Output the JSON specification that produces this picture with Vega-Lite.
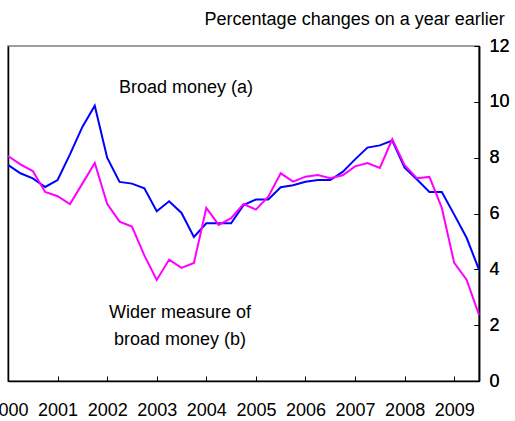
{
  "$schema": "https://vega.github.io/schema/vega-lite/v6.json",
  "autosize": "none",
  "width": 471,
  "height": 335,
  "padding": {"left": 8, "top": 46, "right": 36, "bottom": 40},
  "background": "white",
  "config": {
    "font": "Liberation Sans",
    "view": {"stroke": "#808080", "strokeWidth": 1.5},
    "axis": {"grid": false, "domainColor": "black", "tickColor": "black", "labelColor": "black", "labelFont": "Liberation Sans", "labelFontSize": 18, "domainWidth": 1.5, "tickWidth": 1}
  },
  "datasets": {
    "money": [
      {"t": 2000.00, "s": "Broad money (a)", "v": 7.74},
      {"t": 2000.25, "s": "Broad money (a)", "v": 7.44},
      {"t": 2000.50, "s": "Broad money (a)", "v": 7.26},
      {"t": 2000.75, "s": "Broad money (a)", "v": 6.95},
      {"t": 2001.00, "s": "Broad money (a)", "v": 7.20},
      {"t": 2001.25, "s": "Broad money (a)", "v": 8.12},
      {"t": 2001.50, "s": "Broad money (a)", "v": 9.10},
      {"t": 2001.75, "s": "Broad money (a)", "v": 9.86},
      {"t": 2002.00, "s": "Broad money (a)", "v": 8.00},
      {"t": 2002.25, "s": "Broad money (a)", "v": 7.13},
      {"t": 2002.50, "s": "Broad money (a)", "v": 7.07},
      {"t": 2002.75, "s": "Broad money (a)", "v": 6.90},
      {"t": 2003.00, "s": "Broad money (a)", "v": 6.08},
      {"t": 2003.25, "s": "Broad money (a)", "v": 6.44},
      {"t": 2003.50, "s": "Broad money (a)", "v": 6.02},
      {"t": 2003.75, "s": "Broad money (a)", "v": 5.16},
      {"t": 2004.00, "s": "Broad money (a)", "v": 5.65},
      {"t": 2004.25, "s": "Broad money (a)", "v": 5.65},
      {"t": 2004.50, "s": "Broad money (a)", "v": 5.65},
      {"t": 2004.75, "s": "Broad money (a)", "v": 6.30},
      {"t": 2005.00, "s": "Broad money (a)", "v": 6.50},
      {"t": 2005.25, "s": "Broad money (a)", "v": 6.50},
      {"t": 2005.50, "s": "Broad money (a)", "v": 6.94},
      {"t": 2005.75, "s": "Broad money (a)", "v": 7.01},
      {"t": 2006.00, "s": "Broad money (a)", "v": 7.14},
      {"t": 2006.25, "s": "Broad money (a)", "v": 7.20},
      {"t": 2006.50, "s": "Broad money (a)", "v": 7.20},
      {"t": 2006.75, "s": "Broad money (a)", "v": 7.49},
      {"t": 2007.00, "s": "Broad money (a)", "v": 7.94},
      {"t": 2007.25, "s": "Broad money (a)", "v": 8.36},
      {"t": 2007.50, "s": "Broad money (a)", "v": 8.44},
      {"t": 2007.75, "s": "Broad money (a)", "v": 8.61},
      {"t": 2008.00, "s": "Broad money (a)", "v": 7.64},
      {"t": 2008.25, "s": "Broad money (a)", "v": 7.22},
      {"t": 2008.50, "s": "Broad money (a)", "v": 6.77},
      {"t": 2008.75, "s": "Broad money (a)", "v": 6.77},
      {"t": 2009.00, "s": "Broad money (a)", "v": 5.96},
      {"t": 2009.25, "s": "Broad money (a)", "v": 5.13},
      {"t": 2009.50, "s": "Broad money (a)", "v": 3.99},
      {"t": 2000.00, "s": "Wider measure of broad money (b)", "v": 8.06},
      {"t": 2000.25, "s": "Wider measure of broad money (b)", "v": 7.76},
      {"t": 2000.50, "s": "Wider measure of broad money (b)", "v": 7.52},
      {"t": 2000.75, "s": "Wider measure of broad money (b)", "v": 6.77},
      {"t": 2001.00, "s": "Wider measure of broad money (b)", "v": 6.62},
      {"t": 2001.25, "s": "Wider measure of broad money (b)", "v": 6.34},
      {"t": 2001.50, "s": "Wider measure of broad money (b)", "v": 7.07},
      {"t": 2001.75, "s": "Wider measure of broad money (b)", "v": 7.81},
      {"t": 2002.00, "s": "Wider measure of broad money (b)", "v": 6.35},
      {"t": 2002.25, "s": "Wider measure of broad money (b)", "v": 5.71},
      {"t": 2002.50, "s": "Wider measure of broad money (b)", "v": 5.53},
      {"t": 2002.75, "s": "Wider measure of broad money (b)", "v": 4.50},
      {"t": 2003.00, "s": "Wider measure of broad money (b)", "v": 3.62},
      {"t": 2003.25, "s": "Wider measure of broad money (b)", "v": 4.35},
      {"t": 2003.50, "s": "Wider measure of broad money (b)", "v": 4.05},
      {"t": 2003.75, "s": "Wider measure of broad money (b)", "v": 4.23},
      {"t": 2004.00, "s": "Wider measure of broad money (b)", "v": 6.20},
      {"t": 2004.25, "s": "Wider measure of broad money (b)", "v": 5.59},
      {"t": 2004.50, "s": "Wider measure of broad money (b)", "v": 5.83},
      {"t": 2004.75, "s": "Wider measure of broad money (b)", "v": 6.34},
      {"t": 2005.00, "s": "Wider measure of broad money (b)", "v": 6.14},
      {"t": 2005.25, "s": "Wider measure of broad money (b)", "v": 6.60},
      {"t": 2005.50, "s": "Wider measure of broad money (b)", "v": 7.44},
      {"t": 2005.75, "s": "Wider measure of broad money (b)", "v": 7.14},
      {"t": 2006.00, "s": "Wider measure of broad money (b)", "v": 7.32},
      {"t": 2006.25, "s": "Wider measure of broad money (b)", "v": 7.38},
      {"t": 2006.50, "s": "Wider measure of broad money (b)", "v": 7.26},
      {"t": 2006.75, "s": "Wider measure of broad money (b)", "v": 7.37},
      {"t": 2007.00, "s": "Wider measure of broad money (b)", "v": 7.69},
      {"t": 2007.25, "s": "Wider measure of broad money (b)", "v": 7.81},
      {"t": 2007.50, "s": "Wider measure of broad money (b)", "v": 7.63},
      {"t": 2007.75, "s": "Wider measure of broad money (b)", "v": 8.66},
      {"t": 2008.00, "s": "Wider measure of broad money (b)", "v": 7.73},
      {"t": 2008.25, "s": "Wider measure of broad money (b)", "v": 7.26},
      {"t": 2008.50, "s": "Wider measure of broad money (b)", "v": 7.31},
      {"t": 2008.75, "s": "Wider measure of broad money (b)", "v": 6.20},
      {"t": 2009.00, "s": "Wider measure of broad money (b)", "v": 4.23},
      {"t": 2009.25, "s": "Wider measure of broad money (b)", "v": 3.63},
      {"t": 2009.50, "s": "Wider measure of broad money (b)", "v": 2.37}
    ],
    "labels": [
      {"t": 2003.59, "v": 10.32, "label": "Broad money (a)"},
      {"t": 2003.47, "v": 2.26, "label": "Wider measure of"},
      {"t": 2003.47, "v": 1.29, "label": "broad money (b)"}
    ],
    "note": [
      {"t": 2010.02, "v": 12.75, "label": "Percentage changes on a year earlier"}
    ]
  },
  "encoding": {
    "x": {"field": "t", "type": "quantitative",
      "scale": {"domain": [2000, 2009.5], "nice": false, "zero": false},
      "axis": {"title": null, "values": [2000, 2001, 2002, 2003, 2004, 2005, 2006, 2007, 2008, 2009], "format": "d", "tickSize": -5, "labelPadding": 25, "labelOverlap": false, "labelFlush": false, "labelBound": false}},
    "y": {"field": "v", "type": "quantitative",
      "scale": {"domain": [0, 12], "nice": false, "zero": true},
      "axis": {"title": null, "orient": "right", "values": [0, 2, 4, 6, 8, 10, 12], "tickSize": -5, "labelPadding": 15, "labelOverlap": false, "labelFlush": false, "labelBound": false}}
  },
  "layer": [
    {
      "data": {"name": "money"},
      "mark": {"type": "line", "strokeWidth": 2},
      "encoding": {
        "color": {"field": "s", "type": "nominal",
          "scale": {"domain": ["Broad money (a)", "Wider measure of broad money (b)"], "range": ["#0000FF", "#FF00FF"]},
          "legend": null},
        "order": {"field": "t", "type": "quantitative"}
      }
    },
    {
      "data": {"name": "labels"},
      "mark": {"type": "text", "fontSize": 18, "font": "Liberation Sans", "color": "black", "align": "center", "baseline": "alphabetic"},
      "encoding": {
        "text": {"field": "label", "type": "nominal"},
        "y": {"field": "v", "type": "quantitative", "axis": {"orient": "left", "title": null, "labels": false, "ticks": false, "domainColor": "black", "domainWidth": 1.5}}
      }
    },
    {
      "data": {"name": "note"},
      "mark": {"type": "text", "fontSize": 18, "font": "Liberation Sans", "color": "black", "align": "right", "baseline": "alphabetic"},
      "encoding": {
        "text": {"field": "label", "type": "nominal"}
      }
    }
  ],
  "resolve": {"axis": {"y": "independent"}}
}
